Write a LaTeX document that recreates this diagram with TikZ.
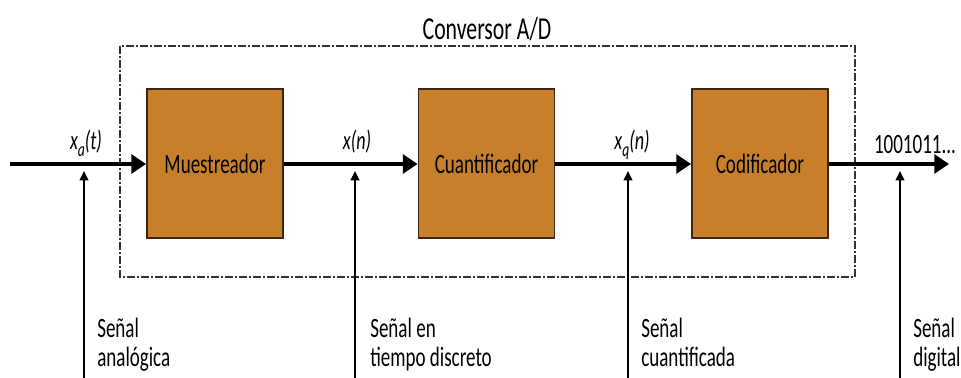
\documentclass[tikz,border=0pt]{standalone}
\usepackage{fontspec}
\setmainfont{Carlito}[FakeStretch=0.68]
\usetikzlibrary{arrows.meta}
\definecolor{blockfill}{RGB}{200,127,42}
\definecolor{blockedge}{RGB}{60,38,15}
\definecolor{dashgray}{RGB}{50,50,50}
\tikzset{
  blockbox/.style={draw=blockedge, line width=1.4pt, fill=blockfill, minimum width=102pt, minimum height=111.75pt, inner sep=0pt, font=\fontsize{21}{24}\selectfont, anchor=center},
  mainflow/.style={line width=3pt, -{Triangle[length=11pt,width=14pt]}},
  pointer/.style={line width=1.5pt, -{Triangle[length=7pt,width=6.5pt]}},
  siglabel/.style={font=\fontsize{20}{22}\selectfont\itshape, anchor=base, inner sep=0pt},
  bottomtext/.style={font=\fontsize{21}{21.75}\selectfont, anchor=base west, inner sep=0pt, align=left},
  convbox/.style={draw=dashgray, line width=1.1pt, dash pattern=on 6pt off 1.5pt on 1.5pt off 1.5pt}
}
\newcommand{\sigsub}[1]{\raisebox{-0.25em}{\fontsize{15}{16}\selectfont #1}}
\begin{document}
\begin{tikzpicture}[x=0.75pt,y=-0.75pt]
\useasboundingbox (0,0) rectangle (961,378);
% converter frame
\draw[convbox] (120,46) rectangle (855,277);
\node[font=\fontsize{24}{28}\selectfont, anchor=base, inner sep=0pt] (title) at (487,40) {Conversor A/D};
% blocks
\node[blockbox] (mue) at (215,163.5) {Muestreador};
\node[blockbox] (cua) at (486.5,163.5) {Cuantificador};
\node[blockbox] (cod) at (760,163.5) {Codificador};
% main signal path
\coordinate (in) at (10,164);
\coordinate (out) at (949,164);
\draw[mainflow] (in) -- (mue.west |- in);
\draw[mainflow] (mue.east |- in) -- (cua.west |- in);
\draw[mainflow] (cua.east |- in) -- (cod.west |- in);
\draw[mainflow] (cod.east |- in) -- (out);
% signal labels
\node[siglabel] (la) at (86,150) {x\sigsub{a}(t)};
\node[siglabel] (lb) at (357,150) {x(n)};
\node[siglabel] (lc) at (632,150) {x\sigsub{q}(n)};
\node[font=\fontsize{21}{24}\selectfont, anchor=base, inner sep=0pt] (ld) at (915,153) {1001011...};
% pointers
\coordinate (pa0) at (84,380); \coordinate (pa1) at (84,171);
\coordinate (pb0) at (355,380); \coordinate (pb1) at (355,171);
\coordinate (pc0) at (628,380); \coordinate (pc1) at (628,171);
\coordinate (pd0) at (900,380); \coordinate (pd1) at (900,171);
\draw[pointer] (pa0) -- (pa1);
\draw[pointer] (pb0) -- (pb1);
\draw[pointer] (pc0) -- (pc1);
\draw[pointer] (pd0) -- (pd1);
% descriptions
\node[bottomtext] (da) at (97,366) {Señal\\analógica};
\node[bottomtext] (db) at (370,366) {Señal en\\tiempo discreto};
\node[bottomtext] (dc) at (641,366) {Señal\\cuantificada};
\node[bottomtext] (dd) at (913,366) {Señal\\digital};
\end{tikzpicture}
\end{document}
